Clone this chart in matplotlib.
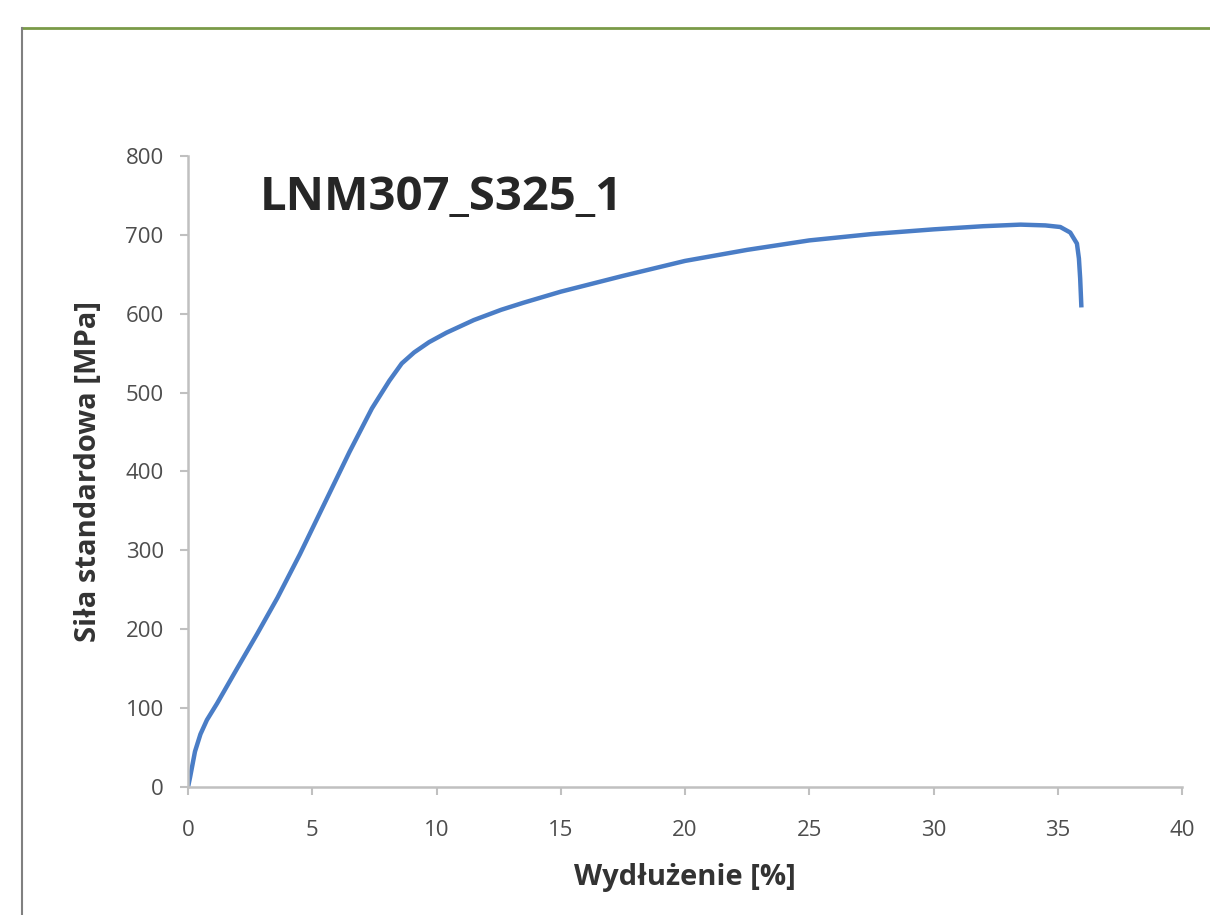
import matplotlib.pyplot as plt
from matplotlib.lines import Line2D

# strain [%] and stress [MPa]
wydluzenie = [0.0, 0.08, 0.28, 0.5, 0.76, 1.17, 1.97, 2.78, 3.6, 4.5,
              5.5, 6.5, 7.4, 8.1, 8.6, 9.1, 9.7, 10.4, 11.5, 12.6,
              13.5, 15.0, 17.5, 20.0, 22.5, 25.0, 27.5, 30.0, 32.0, 33.5,
              34.5, 35.1, 35.5, 35.77, 35.85, 35.9, 35.95]
sila = [0, 12, 45, 67, 85, 106, 150, 194, 240, 295,
        360, 425, 480, 515, 537, 551, 564, 576, 592, 605,
        614, 628, 648, 667, 681, 693, 701, 707, 711, 713,
        712, 710, 703, 689, 670, 645, 608]

x_ticks = [0, 5, 10, 15, 20, 25, 30, 35, 40]
y_ticks = [0, 100, 200, 300, 400, 500, 600, 700, 800]

plt.rcParams["font.family"] = ["Open Sans", "DejaVu Sans"]

fig = plt.figure(figsize=(12.1, 9.15), dpi=100)
ax = fig.add_axes([0.1554, 0.1399, 0.8215, 0.6896])

ax.plot(wydluzenie, sila, color="#4a7dc6", lw=3.2, solid_capstyle="butt",
        solid_joinstyle="round")

ax.set_xlim(0, 40)
ax.set_ylim(0, 800)
ax.set_xticks(x_ticks)
ax.set_yticks(y_ticks)
for side in ("top", "right"):
    ax.spines[side].set_visible(False)
for side in ("left", "bottom"):
    ax.spines[side].set_color("#c0c0c0")
    ax.spines[side].set_linewidth(1.8)
ax.tick_params(colors="#c0c0c0", labelcolor="#4d4d4d", labelsize=16,
               length=5.5, width=1.5, direction="out")
ax.tick_params(axis="x", pad=18)
ax.tick_params(axis="y", pad=12)

ax.set_xlabel("Wydłużenie [%]", fontsize=21, fontweight="bold",
              color="#333333", labelpad=16)
ax.set_ylabel("Siła standardowa [MPa]", fontsize=21, fontweight="bold",
              color="#333333", labelpad=16)

ax.text(0.072, 0.935, "LNM307_S325_1", transform=ax.transAxes,
        fontsize=34, fontweight="bold", color="#262626", va="center")

# outer chart frame
fig.add_artist(Line2D([0.018, 1.0], [0.9694, 0.9694], color="#7a9a48",
                      lw=2, transform=fig.transFigure))
fig.add_artist(Line2D([0.018, 0.018], [0.9694, 0.0], color="#808080",
                      lw=1.5, transform=fig.transFigure))

fig.savefig("out.png", dpi=100)
